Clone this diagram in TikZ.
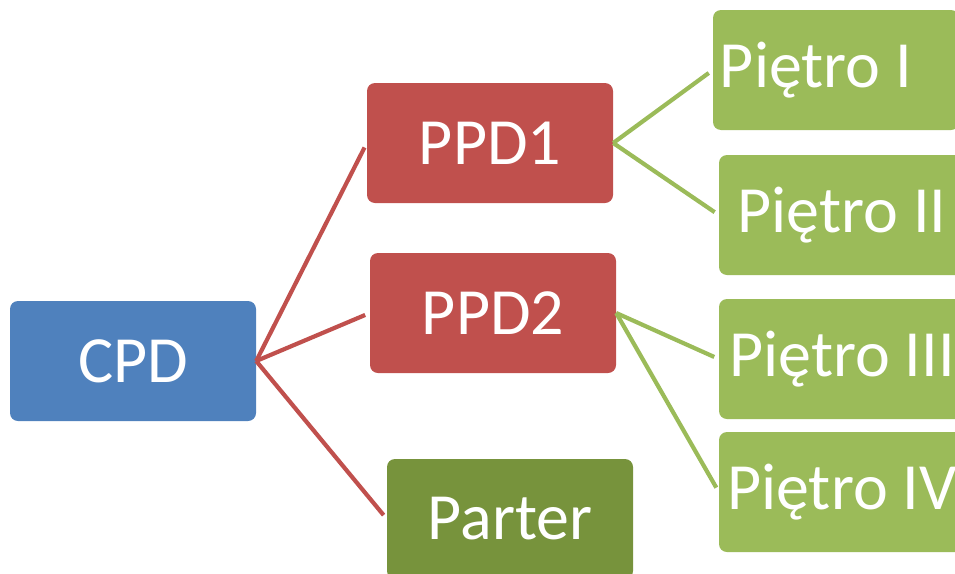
\documentclass[tikz,border=0pt]{standalone}
\usepackage{fontspec}
\setmainfont{Carlito}
\definecolor{cblue}{HTML}{4F81BD}
\definecolor{cred}{HTML}{C0504D}
\definecolor{cgreen}{HTML}{9BBB59}
\definecolor{cdgreen}{HTML}{77933C}
\begin{document}
\begin{tikzpicture}[x=1pt,y=-1pt,
  box/.style={rounded corners=8pt, minimum width=246pt, minimum height=120pt, inner sep=0pt,
    text=white, font=\fontsize{66}{72}\selectfont},
  bluebox/.style={box, fill=cblue},
  redbox/.style={box, fill=cred},
  greenbox/.style={box, fill=cgreen},
  dgreenbox/.style={box, fill=cdgreen},
  redline/.style={draw=cred, line width=4.2pt, shorten >=5pt},
  greenline/.style={draw=cgreen, line width=4.2pt, shorten >=5pt}]
\clip (0,0) rectangle (955,573);
\useasboundingbox (0,0) rectangle (955,573);
\node[bluebox] (cpd) at (133,361) {CPD};
\node[redbox] (ppd1) at (490,143) {PPD1};
\node[redbox] (ppd2) at (493,313) {PPD2};
\node[dgreenbox] (parter) at (510,519) {Parter};
\node[greenbox] (p1) at (836,70) {Piętro I\kern40pt};
\node[greenbox] (p2) at (842,215) {Piętro II};
\node[greenbox] (p3) at (842,359) {Piętro III};
\node[greenbox] (p4) at (842,492) {Piętro IV};
\draw[redline] (cpd.east) -- (ppd1.west);
\draw[redline] (cpd.east) -- (ppd2.west);
\draw[redline] (cpd.east) -- (parter.west);
\draw[greenline] (ppd1.east) -- (p1.west);
\draw[greenline] (ppd1.east) -- (p2.west);
\draw[greenline] (ppd2.east) -- (p3.west);
\draw[greenline] (ppd2.east) -- (p4.west);
\end{tikzpicture}
\end{document}
